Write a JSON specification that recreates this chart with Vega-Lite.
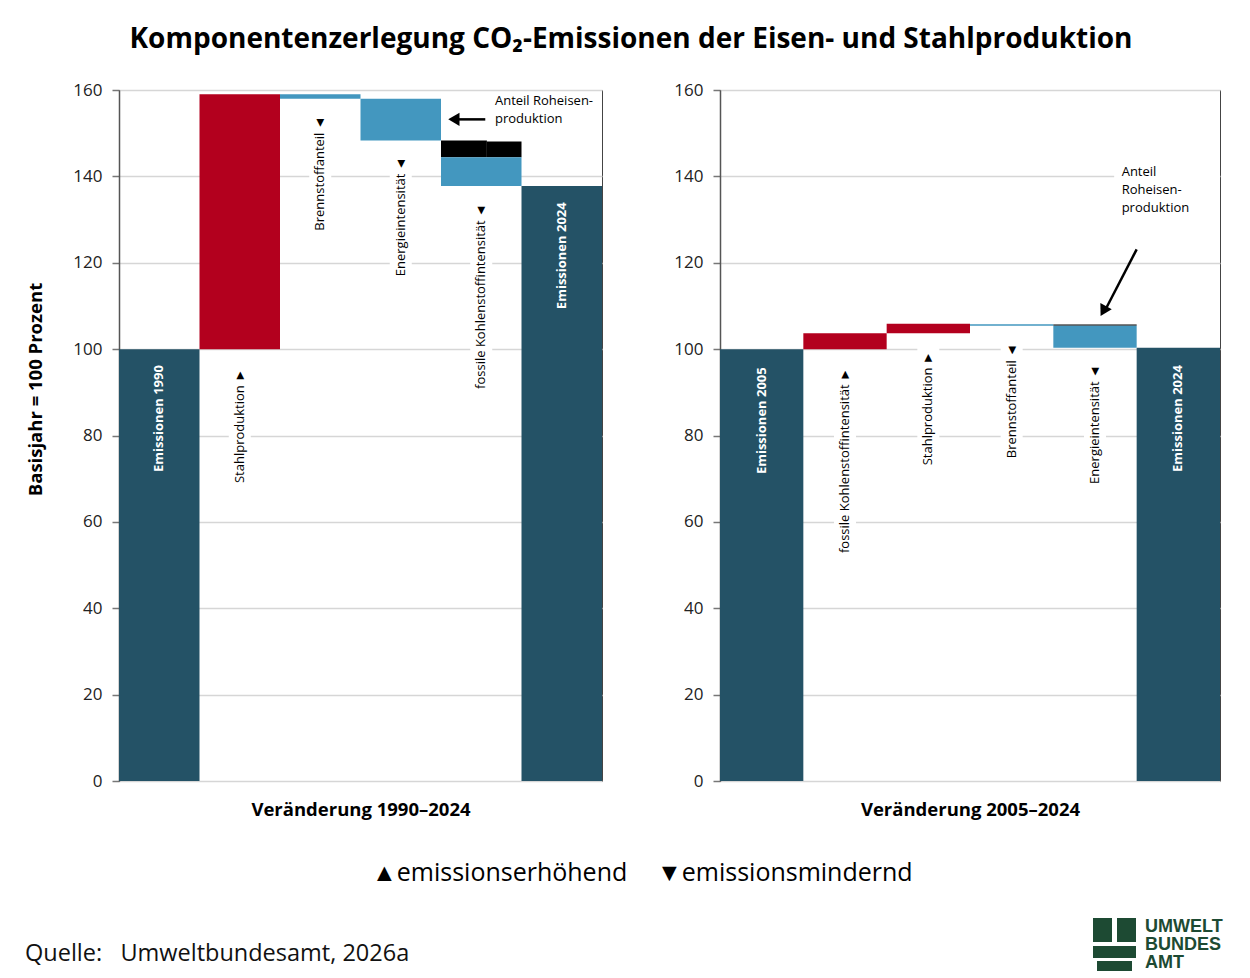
{
  "$schema": "https://vega.github.io/schema/vega-lite/v6.json",
  "padding": {"left": 25, "top": 25, "right": 0, "bottom": 0},
  "background": "white",
  "title": {"text": "Komponentenzerlegung CO₂-Emissionen der Eisen- und Stahlproduktion", "font": "Open Sans", "fontSize": 28, "fontWeight": "bold", "color": "#000", "anchor": "middle", "offset": 27, "dx": -4},
  "config": {
    "font": "Open Sans",
    "view": {"stroke": "#444", "strokeWidth": 1},
    "axis": {"labelFont": "Open Sans", "labelFontSize": 17, "labelColor": "#222", "titleFont": "Open Sans", "titleFontSize": 18.5, "titleFontWeight": "bold", "titleColor": "#000", "domainColor": "#555", "domainWidth": 1.5, "tickColor": "#777", "tickWidth": 1.5, "gridColor": "#d6d6d6", "gridWidth": 1.5},
    "axisY": {"tickCount": 8, "tickSize": 7, "labelPadding": 10, "titlePadding": 27, "titleY": 299, "grid": true},
    "axisX": {"labels": false, "ticks": false, "domain": false, "grid": false, "titlePadding": 19}
  },
  "datasets": {
    "bars_l": [
      {"x0": 0, "x1": 1, "y0": 0, "y1": 100, "kat": "Emissionen"},
      {"x0": 1, "x1": 2, "y0": 100, "y1": 159.0, "kat": "Zunahme"},
      {"x0": 2, "x1": 3, "y0": 158.0, "y1": 159.0, "kat": "Abnahme"},
      {"x0": 3, "x1": 4, "y0": 148.3, "y1": 158.0, "kat": "Abnahme"},
      {"x0": 4, "x1": 4.57, "y0": 144.4, "y1": 148.3, "kat": "Roheisen"},
      {"x0": 4.57, "x1": 5, "y0": 144.4, "y1": 148.1, "kat": "Roheisen"},
      {"x0": 4, "x1": 5, "y0": 137.8, "y1": 144.4, "kat": "Abnahme"},
      {"x0": 5, "x1": 6, "y0": 0, "y1": 137.8, "kat": "Emissionen"}
    ],
    "bars_r": [
      {"x0": 0, "x1": 1, "y0": 0, "y1": 100, "kat": "Emissionen"},
      {"x0": 1, "x1": 2, "y0": 100, "y1": 103.7, "kat": "Zunahme"},
      {"x0": 2, "x1": 3, "y0": 103.7, "y1": 105.9, "kat": "Zunahme"},
      {"x0": 3, "x1": 4, "y0": 105.4, "y1": 105.75, "kat": "Abnahme"},
      {"x0": 4, "x1": 5, "y0": 100.3, "y1": 105.45, "kat": "Abnahme"},
      {"x0": 4, "x1": 5, "y0": 105.45, "y1": 105.7, "kat": "Roheisen"},
      {"x0": 5, "x1": 6, "y0": 0, "y1": 100.3, "kat": "Emissionen"}
    ],
    "labels_l": [
      {"xm": 0.5, "top": 96.3, "bgtop": 96.3, "bot": 96.3, "text": "Emissionen 1990", "innen": true},
      {"xm": 1.5, "top": 95.4, "bgtop": 96.5, "bot": 67.5, "text": "Stahlproduktion ►", "innen": false},
      {"xm": 2.5, "top": 153.9, "bgtop": 155, "bot": 126.5, "text": "Brennstoffanteil ◄", "innen": false},
      {"xm": 3.5, "top": 144.4, "bgtop": 145.5, "bot": 115.5, "text": "Energieintensität ◄", "innen": false},
      {"xm": 4.5, "top": 133.6, "bgtop": 134.7, "bot": 89.0, "text": "fossile Kohlenstoffintensität ◄", "innen": false},
      {"xm": 5.5, "top": 134.0, "bgtop": 134.0, "bot": 134.0, "text": "Emissionen 2024", "innen": true}
    ],
    "labels_r": [
      {"xm": 0.5, "top": 95.8, "bgtop": 95.8, "bot": 95.8, "text": "Emissionen 2005", "innen": true},
      {"xm": 1.5, "top": 95.6, "bgtop": 96.7, "bot": 51.0, "text": "fossile Kohlenstoffintensität ►", "innen": false},
      {"xm": 2.5, "top": 99.5, "bgtop": 101.0, "bot": 71.5, "text": "Stahlproduktion ►", "innen": false},
      {"xm": 3.5, "top": 101.2, "bgtop": 102.3, "bot": 73.0, "text": "Brennstoffanteil ◄", "innen": false},
      {"xm": 4.5, "top": 96.3, "bgtop": 97.4, "bot": 67.0, "text": "Energieintensität ◄", "innen": false},
      {"xm": 5.5, "top": 96.3, "bgtop": 96.3, "bot": 96.3, "text": "Emissionen 2024", "innen": true}
    ],
    "annot_l": [
      {"tx": 4.67, "ty": 158.8, "text": "Anteil Roheisen-\nproduktion", "ax1": 4.55, "ay1": 153.2, "ax2": 4.2, "ay2": 153.2, "hx": 4.16, "hy": 153.2, "ang": 270}
    ],
    "annot_r": [
      {"tx": 4.82, "ty": 142.4, "text": "Anteil\nRoheisen-\nproduktion", "ax1": 5.0, "ay1": 123.1, "ax2": 4.64, "ay2": 109.7, "hx": 4.6, "hy": 108.8, "ang": 209, "bx0": 4.73, "bx1": 6, "by0": 131, "by1": 143.5}
    ],
    "footer_legend": [
      {"fx": 253, "fy": 32, "text": "▲emissionserhöhend"},
      {"fx": 538, "fy": 32, "text": "▼emissionsmindernd"}
    ],
    "footer_source": [
      {"fx": -94, "fy": 113, "text": "Quelle:\u00a0\u00a0\u00a0Umweltbundesamt, 2026a"}
    ],
    "footer_logo": [
      {"fx": 1026, "fy": 86, "text": "UMWELT"},
      {"fx": 1026, "fy": 104, "text": "BUNDES"},
      {"fx": 1026, "fy": 122, "text": "AMT"}
    ],
    "footer_icon": [
      {"fx0": 974, "fx1": 993, "fy0": 77, "fy1": 101},
      {"fx0": 998, "fx1": 1017, "fy0": 77, "fy1": 101},
      {"fx0": 974, "fx1": 1017, "fy0": 105, "fy1": 117},
      {"fx0": 978, "fx1": 1013, "fy0": 120, "fy1": 130}
    ]
  },
  "spacing": 22,
  "vconcat": [
    {
      "spacing": 70,
      "hconcat": [
        {
          "width": 483,
          "height": 691,
          "layer": [
            {
              "data": {"name": "bars_l"},
              "mark": {"type": "rect"},
              "encoding": {
                "x": {"field": "x0", "type": "quantitative", "scale": {"domain": [0, 6], "nice": false, "zero": false}, "title": "Veränderung 1990–2024"},
                "x2": {"field": "x1"},
                "y": {"field": "y0", "type": "quantitative", "scale": {"domain": [0, 160], "nice": false}, "title": "Basisjahr = 100 Prozent"},
                "y2": {"field": "y1"},
                "color": {"field": "kat", "type": "nominal", "scale": {"domain": ["Emissionen", "Zunahme", "Abnahme", "Roheisen"], "range": ["#245266", "#b3001e", "#4397bf", "#000000"]}, "legend": null}
              }
            },
            {
              "data": {"name": "labels_l"},
              "transform": [{"filter": "datum.innen == false"}],
              "mark": {"type": "rule", "color": "white", "strokeWidth": 22, "strokeCap": "butt"},
              "encoding": {
                "x": {"field": "xm", "type": "quantitative", "scale": {"domain": [0, 6], "nice": false, "zero": false}, "title": "Veränderung 1990–2024"},
                "y": {"field": "bgtop", "type": "quantitative", "scale": {"domain": [0, 160], "nice": false}, "title": "Basisjahr = 100 Prozent"},
                "y2": {"field": "bot"}
              }
            },
            {
              "data": {"name": "labels_l"},
              "transform": [{"filter": "datum.innen == false"}],
              "mark": {"type": "text", "angle": 270, "align": "right", "baseline": "middle", "font": "Open Sans", "fontSize": 13, "color": "#000"},
              "encoding": {
                "x": {"field": "xm", "type": "quantitative", "scale": {"domain": [0, 6], "nice": false, "zero": false}, "title": "Veränderung 1990–2024"},
                "y": {"field": "top", "type": "quantitative", "scale": {"domain": [0, 160], "nice": false}, "title": "Basisjahr = 100 Prozent"},
                "text": {"field": "text"}
              }
            },
            {
              "data": {"name": "labels_l"},
              "transform": [{"filter": "datum.innen == true"}],
              "mark": {"type": "text", "angle": 270, "align": "right", "baseline": "middle", "font": "Open Sans", "fontSize": 13, "fontWeight": "bold", "color": "#fff"},
              "encoding": {
                "x": {"field": "xm", "type": "quantitative", "scale": {"domain": [0, 6], "nice": false, "zero": false}, "title": "Veränderung 1990–2024"},
                "y": {"field": "top", "type": "quantitative", "scale": {"domain": [0, 160], "nice": false}, "title": "Basisjahr = 100 Prozent"},
                "text": {"field": "text"}
              }
            },
            {
              "data": {"name": "annot_l"},
              "mark": {"type": "text", "align": "left", "baseline": "top", "font": "Open Sans", "fontSize": 13, "lineBreak": "\n", "lineHeight": 18, "color": "#000"},
              "encoding": {
                "x": {"field": "tx", "type": "quantitative", "scale": {"domain": [0, 6], "nice": false, "zero": false}, "title": "Veränderung 1990–2024"},
                "y": {"field": "ty", "type": "quantitative", "scale": {"domain": [0, 160], "nice": false}, "title": "Basisjahr = 100 Prozent"},
                "text": {"field": "text"}
              }
            },
            {
              "data": {"name": "annot_l"},
              "mark": {"type": "rule", "color": "#000", "strokeWidth": 2.5},
              "encoding": {
                "x": {"field": "ax1", "type": "quantitative", "scale": {"domain": [0, 6], "nice": false, "zero": false}, "title": "Veränderung 1990–2024"},
                "y": {"field": "ay1", "type": "quantitative", "scale": {"domain": [0, 160], "nice": false}, "title": "Basisjahr = 100 Prozent"},
                "x2": {"field": "ax2"},
                "y2": {"field": "ay2"}
              }
            },
            {
              "data": {"name": "annot_l"},
              "mark": {"type": "point", "shape": "triangle-up", "filled": true, "color": "#000", "size": 170, "opacity": 1},
              "encoding": {
                "x": {"field": "hx", "type": "quantitative", "scale": {"domain": [0, 6], "nice": false, "zero": false}, "title": "Veränderung 1990–2024"},
                "y": {"field": "hy", "type": "quantitative", "scale": {"domain": [0, 160], "nice": false}, "title": "Basisjahr = 100 Prozent"},
                "angle": {"field": "ang", "type": "quantitative", "scale": null}
              }
            }
          ]
        },
        {
          "width": 500,
          "height": 691,
          "layer": [
            {
              "data": {"name": "bars_r"},
              "mark": {"type": "rect"},
              "encoding": {
                "x": {"field": "x0", "type": "quantitative", "scale": {"domain": [0, 6], "nice": false, "zero": false}, "title": "Veränderung 2005–2024"},
                "x2": {"field": "x1"},
                "y": {"field": "y0", "type": "quantitative", "scale": {"domain": [0, 160], "nice": false}, "title": null},
                "y2": {"field": "y1"},
                "color": {"field": "kat", "type": "nominal", "scale": {"domain": ["Emissionen", "Zunahme", "Abnahme", "Roheisen"], "range": ["#245266", "#b3001e", "#4397bf", "#000000"]}, "legend": null}
              }
            },
            {
              "data": {"name": "labels_r"},
              "transform": [{"filter": "datum.innen == false"}],
              "mark": {"type": "rule", "color": "white", "strokeWidth": 22, "strokeCap": "butt"},
              "encoding": {
                "x": {"field": "xm", "type": "quantitative", "scale": {"domain": [0, 6], "nice": false, "zero": false}, "title": "Veränderung 2005–2024"},
                "y": {"field": "bgtop", "type": "quantitative", "scale": {"domain": [0, 160], "nice": false}, "title": null},
                "y2": {"field": "bot"}
              }
            },
            {
              "data": {"name": "annot_r"},
              "mark": {"type": "rect", "color": "white"},
              "encoding": {
                "x": {"field": "bx0", "type": "quantitative", "scale": {"domain": [0, 6], "nice": false, "zero": false}, "title": "Veränderung 2005–2024"},
                "x2": {"field": "bx1"},
                "y": {"field": "by0", "type": "quantitative", "scale": {"domain": [0, 160], "nice": false}, "title": null},
                "y2": {"field": "by1"}
              }
            },
            {
              "data": {"name": "labels_r"},
              "transform": [{"filter": "datum.innen == false"}],
              "mark": {"type": "text", "angle": 270, "align": "right", "baseline": "middle", "font": "Open Sans", "fontSize": 13, "color": "#000"},
              "encoding": {
                "x": {"field": "xm", "type": "quantitative", "scale": {"domain": [0, 6], "nice": false, "zero": false}, "title": "Veränderung 2005–2024"},
                "y": {"field": "top", "type": "quantitative", "scale": {"domain": [0, 160], "nice": false}, "title": null},
                "text": {"field": "text"}
              }
            },
            {
              "data": {"name": "labels_r"},
              "transform": [{"filter": "datum.innen == true"}],
              "mark": {"type": "text", "angle": 270, "align": "right", "baseline": "middle", "font": "Open Sans", "fontSize": 13, "fontWeight": "bold", "color": "#fff"},
              "encoding": {
                "x": {"field": "xm", "type": "quantitative", "scale": {"domain": [0, 6], "nice": false, "zero": false}, "title": "Veränderung 2005–2024"},
                "y": {"field": "top", "type": "quantitative", "scale": {"domain": [0, 160], "nice": false}, "title": null},
                "text": {"field": "text"}
              }
            },
            {
              "data": {"name": "annot_r"},
              "mark": {"type": "text", "align": "left", "baseline": "top", "font": "Open Sans", "fontSize": 13, "lineBreak": "\n", "lineHeight": 18, "color": "#000"},
              "encoding": {
                "x": {"field": "tx", "type": "quantitative", "scale": {"domain": [0, 6], "nice": false, "zero": false}, "title": "Veränderung 2005–2024"},
                "y": {"field": "ty", "type": "quantitative", "scale": {"domain": [0, 160], "nice": false}, "title": null},
                "text": {"field": "text"}
              }
            },
            {
              "data": {"name": "annot_r"},
              "mark": {"type": "rule", "color": "#000", "strokeWidth": 2.5},
              "encoding": {
                "x": {"field": "ax1", "type": "quantitative", "scale": {"domain": [0, 6], "nice": false, "zero": false}, "title": "Veränderung 2005–2024"},
                "y": {"field": "ay1", "type": "quantitative", "scale": {"domain": [0, 160], "nice": false}, "title": null},
                "x2": {"field": "ax2"},
                "y2": {"field": "ay2"}
              }
            },
            {
              "data": {"name": "annot_r"},
              "mark": {"type": "point", "shape": "triangle-up", "filled": true, "color": "#000", "size": 170, "opacity": 1},
              "encoding": {
                "x": {"field": "hx", "type": "quantitative", "scale": {"domain": [0, 6], "nice": false, "zero": false}, "title": "Veränderung 2005–2024"},
                "y": {"field": "hy", "type": "quantitative", "scale": {"domain": [0, 160], "nice": false}, "title": null},
                "angle": {"field": "ang", "type": "quantitative", "scale": null}
              }
            }
          ]
        }
      ]
    },
    {
      "width": 1126,
      "height": 138,
      "view": {"stroke": null},
      "layer": [
        {
          "data": {"name": "footer_legend"},
          "mark": {"type": "text", "align": "left", "baseline": "middle", "font": "Open Sans", "fontSize": 25, "color": "#000"},
          "encoding": {
            "x": {"field": "fx", "type": "quantitative", "scale": {"domain": [0, 1126], "nice": false, "zero": false}, "axis": null},
            "y": {"field": "fy", "type": "quantitative", "scale": {"domain": [0, 138], "nice": false, "reverse": true}, "axis": null},
            "text": {"field": "text"}
          }
        },
        {
          "data": {"name": "footer_source"},
          "mark": {"type": "text", "align": "left", "baseline": "middle", "font": "Open Sans", "fontSize": 23.5, "color": "#111"},
          "encoding": {
            "x": {"field": "fx", "type": "quantitative", "axis": null},
            "y": {"field": "fy", "type": "quantitative", "axis": null},
            "text": {"field": "text"}
          }
        },
        {
          "data": {"name": "footer_logo"},
          "mark": {"type": "text", "align": "left", "baseline": "middle", "font": "Liberation Sans", "fontSize": 18, "fontWeight": "bold", "color": "#1d4a33"},
          "encoding": {
            "x": {"field": "fx", "type": "quantitative", "axis": null},
            "y": {"field": "fy", "type": "quantitative", "axis": null},
            "text": {"field": "text"}
          }
        },
        {
          "data": {"name": "footer_icon"},
          "mark": {"type": "rect", "color": "#1d4a33"},
          "encoding": {
            "x": {"field": "fx0", "type": "quantitative", "axis": null},
            "x2": {"field": "fx1"},
            "y": {"field": "fy0", "type": "quantitative", "axis": null},
            "y2": {"field": "fy1"}
          }
        }
      ]
    }
  ]
}
